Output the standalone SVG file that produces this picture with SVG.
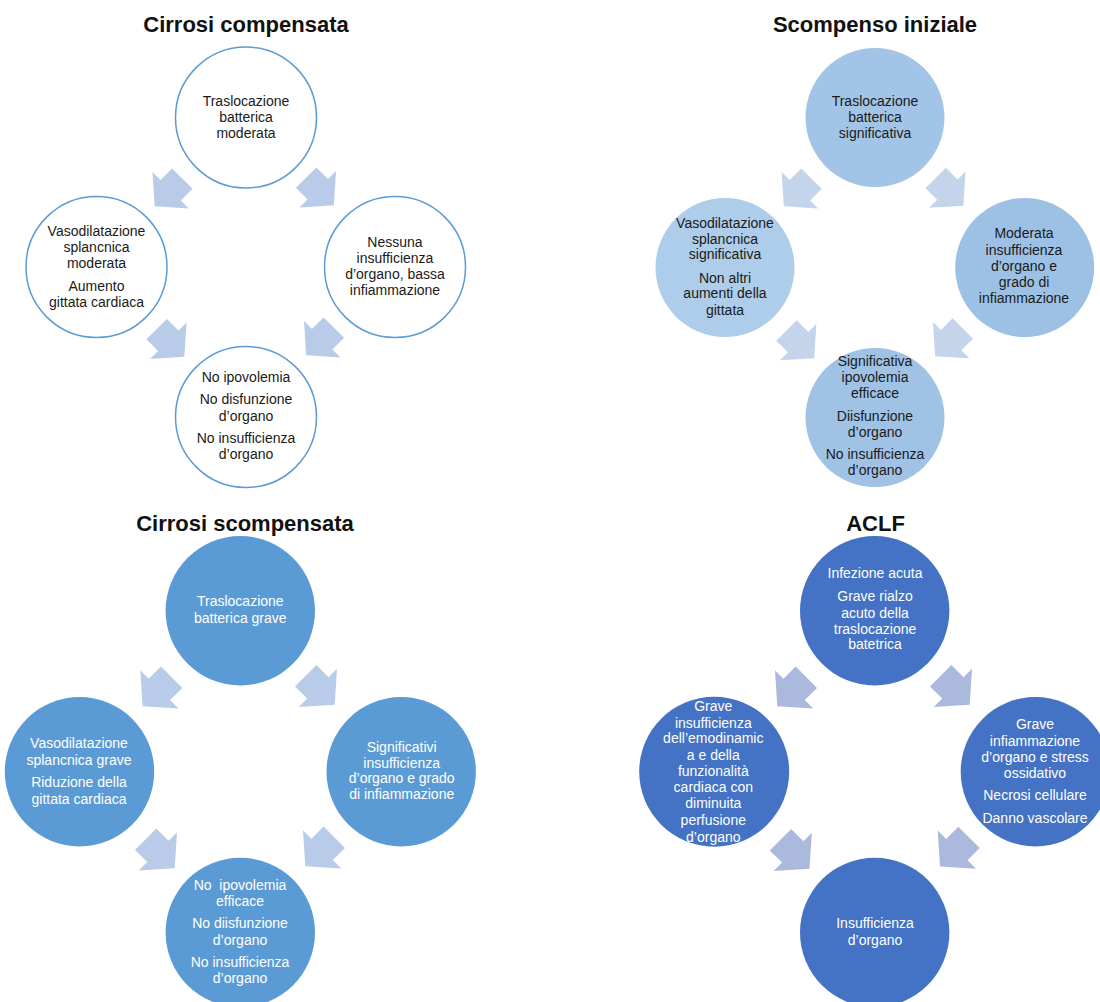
<svg xmlns="http://www.w3.org/2000/svg" xmlns:xlink="http://www.w3.org/1999/xlink" width="1100" height="1002" viewBox="0 0 1100 1002">
<style>
.title{font-family:"Liberation Sans",Arial,sans-serif;font-weight:bold;font-size:22px;fill:#111;text-anchor:middle}
.t{font-family:"Liberation Sans",Arial,sans-serif;font-size:14px;text-anchor:middle}
.dk{fill:#1a1a1a}
.wt{fill:#ffffff}
.c1{fill:#ffffff;stroke:#5b9bd5;stroke-width:1.5}
.a1{fill:#b8cbe8}
.a2{fill:#c4d4ea}
.a3{fill:#b8cbe8}
.a4{fill:#abb9dd}
</style>
<defs>
<path id="arr" d="M-13.5,-14 H2.5 V-25 L24.5,0 L2.5,25 V14 H-13.5 Z"/>
</defs>
<rect width="1100" height="1002" fill="#ffffff"/>

<text class="title" x="246" y="32">Cirrosi compensata</text>
<text class="title" x="875" y="32">Scompenso iniziale</text>
<text class="title" x="245" y="531">Cirrosi scompensata</text>
<text class="title" x="875.5" y="531">ACLF</text>

<g id="connectors">
  <use xlink:href="#arr" class="a1" transform="translate(172.5,188.5) rotate(135) scale(1.03)"/>
  <use xlink:href="#arr" class="a1" transform="translate(316,187.5) rotate(45) scale(1.03)"/>
  <use xlink:href="#arr" class="a1" transform="translate(166.5,339) rotate(45) scale(1.03)"/>
  <use xlink:href="#arr" class="a1" transform="translate(324,337.5) rotate(135) scale(1.03)"/>

  <use xlink:href="#arr" class="a2" transform="translate(801.7,188.5) rotate(135) scale(1.03)"/>
  <use xlink:href="#arr" class="a2" transform="translate(945.5,187.8) rotate(45) scale(1.03)"/>
  <use xlink:href="#arr" class="a2" transform="translate(796.3,340.3) rotate(45) scale(1.03)"/>
  <use xlink:href="#arr" class="a2" transform="translate(953,338.3) rotate(135) scale(1.03)"/>

  <use xlink:href="#arr" class="a3" transform="translate(161.3,687.5) rotate(135) scale(1.08)"/>
  <use xlink:href="#arr" class="a3" transform="translate(316,686) rotate(45) scale(1.08)"/>
  <use xlink:href="#arr" class="a3" transform="translate(156,849.5) rotate(45) scale(1.08)"/>
  <use xlink:href="#arr" class="a3" transform="translate(324,847.5) rotate(135) scale(1.08)"/>

  <use xlink:href="#arr" class="a4" transform="translate(796,687.5) rotate(135) scale(1.08)"/>
  <use xlink:href="#arr" class="a4" transform="translate(951,686) rotate(45) scale(1.08)"/>
  <use xlink:href="#arr" class="a4" transform="translate(790.8,850) rotate(45) scale(1.08)"/>
  <use xlink:href="#arr" class="a4" transform="translate(958.7,847.7) rotate(135) scale(1.08)"/>
</g>

<!-- Quadrant 1: Cirrosi compensata -->
<g id="q1-top">
  <circle class="c1" cx="246" cy="117.5" r="70.5"/>
  <text class="t dk"><tspan x="246" y="106">Traslocazione</tspan><tspan x="246" y="122">batterica</tspan><tspan x="246" y="138">moderata</tspan></text>
</g>
<g id="q1-left">
  <circle class="c1" cx="96.5" cy="267" r="70.5"/>
  <text class="t dk"><tspan x="96.5" y="235.7">Vasodilatazione</tspan><tspan x="96.5" y="252">splancnica</tspan><tspan x="96.5" y="267.7">moderata</tspan><tspan x="96.5" y="291">Aumento</tspan><tspan x="96.5" y="306.7">gittata cardiaca</tspan></text>
</g>
<g id="q1-right">
  <circle class="c1" cx="395" cy="267" r="70.5"/>
  <text class="t dk"><tspan x="395" y="246.7">Nessuna</tspan><tspan x="395" y="263">insufficienza</tspan><tspan x="395" y="279">d’organo, bassa</tspan><tspan x="395" y="295">infiammazione</tspan></text>
</g>
<g id="q1-bottom">
  <circle class="c1" cx="246" cy="417" r="70.5"/>
  <text class="t dk"><tspan x="246" y="382.3">No ipovolemia</tspan><tspan x="246" y="404.3">No disfunzione</tspan><tspan x="246" y="421">d’organo</tspan><tspan x="246" y="443.3">No insufficienza</tspan><tspan x="246" y="459">d’organo</tspan></text>
</g>

<!-- Quadrant 2: Scompenso iniziale -->
<g id="q2-top">
  <circle cx="875" cy="117.5" r="69.5" fill="#a2c4e6"/>
  <text class="t dk"><tspan x="875" y="106">Traslocazione</tspan><tspan x="875" y="122">batterica</tspan><tspan x="875" y="137.7">significativa</tspan></text>
</g>
<g id="q2-left">
  <circle cx="725" cy="267.5" r="69.5" fill="#aecdea"/>
  <text class="t dk"><tspan x="725" y="227.7">Vasodilatazione</tspan><tspan x="725" y="244.3">splancnica</tspan><tspan x="725" y="259.3">significativa</tspan><tspan x="725" y="282.7">Non altri</tspan><tspan x="725" y="298.3">aumenti della</tspan><tspan x="725" y="315">gittata</tspan></text>
</g>
<g id="q2-right">
  <circle cx="1024.7" cy="267.5" r="69.5" fill="#9dc1e4"/>
  <text class="t dk"><tspan x="1024" y="238.3">Moderata</tspan><tspan x="1024" y="255">insufficienza</tspan><tspan x="1024" y="270.7">d’organo e</tspan><tspan x="1024" y="287.3">grado di</tspan><tspan x="1024" y="302.7">infiammazione</tspan></text>
</g>
<g id="q2-bottom">
  <circle cx="875" cy="417.5" r="69.5" fill="#9fc2e5"/>
  <text class="t dk"><tspan x="875" y="365.7">Significativa</tspan><tspan x="875" y="382.3">ipovolemia</tspan><tspan x="875" y="397.7">efficace</tspan><tspan x="875" y="421">Diisfunzione</tspan><tspan x="875" y="436.7">d’organo</tspan><tspan x="875" y="459">No insufficienza</tspan><tspan x="875" y="475">d’organo</tspan></text>
</g>

<!-- Quadrant 3: Cirrosi scompensata -->
<g id="q3-top">
  <circle cx="240.3" cy="610.8" r="74.7" fill="#5b9bd5"/>
  <text class="t wt"><tspan x="240.3" y="606">Traslocazione</tspan><tspan x="240.3" y="622.7">batterica grave</tspan></text>
</g>
<g id="q3-left">
  <circle cx="79.5" cy="771.7" r="74.7" fill="#5b9bd5"/>
  <text class="t wt"><tspan x="79" y="748.3">Vasodilatazione</tspan><tspan x="79" y="765">splancnica grave</tspan><tspan x="79" y="787.3">Riduzione della</tspan><tspan x="79" y="804">gittata cardiaca</tspan></text>
</g>
<g id="q3-right">
  <circle cx="401.2" cy="771.7" r="74.7" fill="#5b9bd5"/>
  <text class="t wt"><tspan x="401.7" y="751.7">Significativi</tspan><tspan x="401.7" y="767.7">insufficienza</tspan><tspan x="401.7" y="783.3">d’organo e grado</tspan><tspan x="401.7" y="799.3">di infiammazione</tspan></text>
</g>
<g id="q3-bottom">
  <circle cx="240.3" cy="932.4" r="74.7" fill="#5b9bd5"/>
  <text class="t wt" xml:space="preserve"><tspan x="240" y="890">No  ipovolemia</tspan><tspan x="240" y="906">efficace</tspan><tspan x="240" y="928.3">No diisfunzione</tspan><tspan x="240" y="945">d’organo</tspan><tspan x="240" y="967.3">No insufficienza</tspan><tspan x="240" y="983.3">d’organo</tspan></text>
</g>

<!-- Quadrant 4: ACLF -->
<g id="q4-top">
  <circle cx="874.7" cy="610.8" r="74.7" fill="#4472c4"/>
  <text class="t wt"><tspan x="875" y="578.3">Infezione acuta</tspan><tspan x="875" y="601">Grave rialzo</tspan><tspan x="875" y="617.7">acuto della</tspan><tspan x="875" y="634">traslocazione</tspan><tspan x="875" y="649.3">batetrica</tspan></text>
</g>
<g id="q4-left">
  <circle cx="714.2" cy="771.7" r="75" fill="#4472c4"/>
  <text class="t wt"><tspan x="713.3" y="711">Grave</tspan><tspan x="713.3" y="727.7">insufficienza</tspan><tspan x="713.3" y="743.3">dell’emodinamic</tspan><tspan x="713.3" y="760">a e della</tspan><tspan x="713.3" y="776">funzionalità</tspan><tspan x="713.3" y="791.7">cardiaca con</tspan><tspan x="713.3" y="808.3">diminuita</tspan><tspan x="713.3" y="825">perfusione</tspan><tspan x="713.3" y="841.7">d’organo</tspan></text>
</g>
<g id="q4-right">
  <circle cx="1035.4" cy="771.7" r="74.7" fill="#4472c4"/>
  <text class="t wt"><tspan x="1035" y="729">Grave</tspan><tspan x="1035" y="745.7">infiammazione</tspan><tspan x="1035" y="761.7">d’organo e stress</tspan><tspan x="1035" y="777.7">ossidativo</tspan><tspan x="1035" y="800">Necrosi cellulare</tspan><tspan x="1035" y="823.3">Danno vascolare</tspan></text>
</g>
<g id="q4-bottom">
  <circle cx="874.7" cy="932.4" r="74.7" fill="#4472c4"/>
  <text class="t wt"><tspan x="875" y="928.3">Insufficienza</tspan><tspan x="875" y="945">d’organo</tspan></text>
</g>
</svg>
